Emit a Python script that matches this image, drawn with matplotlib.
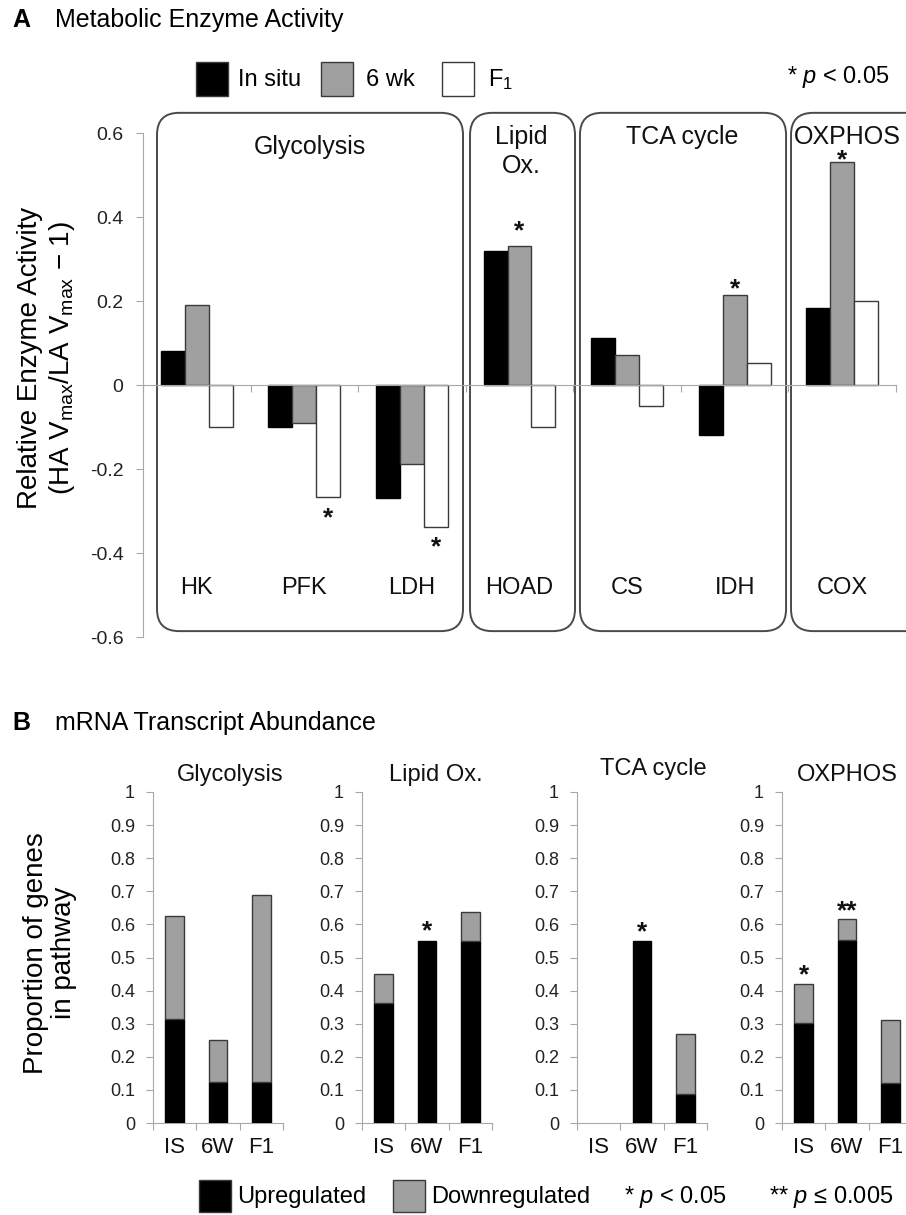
import matplotlib
matplotlib.use("Agg")
import matplotlib.pyplot as plt
from matplotlib.patches import Rectangle, FancyBboxPatch
from matplotlib.transforms import offset_copy
import numpy as np

plt.rcParams['font.family'] = ['Liberation Sans', 'DejaVu Sans']
plt.rcParams['mathtext.fontset'] = 'custom'
plt.rcParams['mathtext.rm'] = 'Liberation Sans'
plt.rcParams['mathtext.it'] = 'Liberation Sans:italic'

# ---- panel A data ----
enzymes = ['HK', 'PFK', 'LDH', 'HOAD', 'CS', 'IDH', 'COX']
in_situ = [0.082, -0.10, -0.27, 0.32, 0.113, -0.119, 0.183]
six_wk = [0.19, -0.09, -0.188, 0.33, 0.072, 0.214, 0.53]
f1_gen = [-0.10, -0.267, -0.338, -0.10, -0.049, 0.052, 0.20]
series_a = ['In situ', '6 wk', 'F$_1$']
# (enzyme, series, y of star)
stars_a = [(1, 2, -0.298), (2, 2, -0.367), (3, 1, 0.385), (5, 1, 0.247), (6, 1, 0.555)]
pathways_a = ['Glycolysis', 'Lipid\nOx.', 'TCA cycle', 'OXPHOS']

# ---- panel B data ----
groups_b = ['IS', '6W', 'F1']
pathways_b = ['Glycolysis', 'Lipid Ox.', 'TCA cycle', 'OXPHOS']
up_b = [[0.313, 0.123, 0.123],
        [0.363, 0.55, 0.55],
        [0.0, 0.55, 0.089],
        [0.303, 0.552, 0.121]]
total_b = [[0.624, 0.25, 0.688],
           [0.449, 0.55, 0.637],
           [0.0, 0.55, 0.268],
           [0.419, 0.617, 0.310]]
# (pathway, group, label, y)
stars_b = [(1, 1, '*', 0.604), (2, 1, '*', 0.60), (3, 0, '*', 0.471), (3, 1, '**', 0.665)]

W, H = 906, 1215
BLACK = '#000000'
GRAY = '#a0a0a0'
EDGE = '#3a3a3a'
AXC = '#a8a8a8'


def fx(x):
    return x / W


def fy(y):
    return 1 - y / H


def star(ax, x, y, label, size):
    # put the visual centre of the asterisk at y
    tr = offset_copy(ax.transData, fig=fig, y=-0.58 * size, units='points')
    ax.text(x, y, label, transform=tr, ha='center', va='baseline',
            fontsize=size, fontweight='bold', color='#111111', clip_on=False)


fig = plt.figure(figsize=(W / 100, H / 100), dpi=100)

# ================= panel A =================
axA = fig.add_axes([fx(143), fy(637), 753 / W, 504 / H])
n = len(enzymes)
xs = np.arange(n)
bw = 0.223
colors = [BLACK, GRAY, 'white']
for k, vals in enumerate([in_situ, six_wk, f1_gen]):
    axA.bar(xs + (k - 1) * bw, vals, width=bw, color=colors[k],
            edgecolor=EDGE if k else BLACK, linewidth=1.0, zorder=3)

axA.set_xlim(-0.5, n - 0.5)
axA.set_ylim(-0.6, 0.6)
axA.set_yticks([0.6, 0.4, 0.2, 0, -0.2, -0.4, -0.6])
axA.set_yticklabels(['0.6', '0.4', '0.2', '0', '-0.2', '-0.4', '-0.6'])
axA.tick_params(axis='y', length=5, color=AXC, pad=9, labelsize=14, labelcolor='#222222')
axA.set_xticks(np.arange(-0.5, n, 1.0))
axA.set_xticklabels([])
axA.tick_params(axis='x', length=5, color=AXC, direction='out')
for s in ['top', 'right']:
    axA.spines[s].set_visible(False)
axA.spines['left'].set_color(AXC)
axA.spines['bottom'].set_color(AXC)
axA.spines['bottom'].set_position(('data', 0))
axA.spines['bottom'].set_zorder(4)

# pathway boxes
box_spans = [(-0.37, 2.475), (2.54, 3.516), (3.562, 5.478), (5.524, 6.85)]
px_x = 753 / n
px_y = 504 / 1.2
r = 22 / px_x
for (x0, x1) in box_spans:
    b = FancyBboxPatch((x0, -0.586), x1 - x0, 0.648 + 0.586,
                       boxstyle='round,pad=0,rounding_size=%.3f' % r,
                       mutation_aspect=px_x / px_y, facecolor='none',
                       edgecolor='#4a4a4a', linewidth=1.4, clip_on=False, zorder=2)
    axA.add_patch(b)

label_pos = [(1.05, 0.567), (3.02, 0.556), (4.51, 0.59), (6.05, 0.59)]
for name, (lx, ly) in zip(pathways_a, label_pos):
    axA.text(lx, ly, name, ha='center', va='center', fontsize=18,
             linespacing=1.25, color='#111111', clip_on=False)

for i, e in enumerate(enzymes):
    axA.text(i, -0.483, e, ha='center', va='center', fontsize=17, color='#111111')

for (i, k, y) in stars_a:
    star(axA, i + (k - 1) * bw, y, '*', 19)

fig.text(fx(47), fy(358),
         'Relative Enzyme Activity\n(HA V$_{\\mathrm{max}}$/LA V$_{\\mathrm{max}}$ \u2212 1)',
         rotation=90, ha='center', va='center', fontsize=20,
         multialignment='center', linespacing=1.15)

# panel A title + legend
fig.text(fx(12), fy(20), 'A', fontsize=18, fontweight='bold', va='center')
fig.text(fx(55), fy(20), 'Metabolic Enzyme Activity', fontsize=18, va='center')
sq_x = [196, 321, 442]
tx_x = [238, 366, 488]
for k in range(3):
    fig.add_artist(Rectangle((fx(sq_x[k]), fy(96)), 32 / W, 34 / H,
                             transform=fig.transFigure, facecolor=colors[k],
                             edgecolor=EDGE, linewidth=1.0))
    fig.text(fx(tx_x[k]), fy(80), series_a[k], fontsize=17, va='center')
fig.text(fx(890), fy(77), '* $\\mathit{p}$ < 0.05', fontsize=17, va='center', ha='right')

# ================= panel B =================
lefts = [153, 362, 577, 782]
title_x = [0.59, 0.57, 0.585, 0.5]
title_y = [1.05, 1.05, 1.07, 1.05]
for p, name in enumerate(pathways_b):
    ax = fig.add_axes([fx(lefts[p]), fy(1123), 130 / W, 331 / H])
    up = np.array(up_b[p])
    down = np.array(total_b[p]) - up
    xb = np.arange(3) + 0.5
    show = np.array(total_b[p]) > 0
    ax.bar(xb[show], up[show], width=0.43, color=BLACK, edgecolor=BLACK,
           linewidth=1.0, zorder=3)
    dshow = show & (down > 0.001)
    ax.bar(xb[dshow], down[dshow], bottom=up[dshow], width=0.43, color=GRAY,
           edgecolor=EDGE, linewidth=1.0, zorder=3)
    ax.set_xlim(0, 3)
    ax.set_ylim(0, 1)
    ax.set_yticks(np.arange(0, 1.01, 0.1))
    ax.set_yticklabels(['0'] + ['%.1f' % v for v in np.arange(0.1, 0.95, 0.1)] + ['1'])
    ax.tick_params(axis='y', length=5, color=AXC, pad=8, labelsize=13, labelcolor='#222222')
    ax.set_xticks([0, 1, 2, 3])
    ax.set_xticklabels([])
    ax.set_xticks(xb, minor=True)
    ax.set_xticklabels(groups_b, minor=True)
    ax.tick_params(axis='x', which='major', length=5, color=AXC)
    ax.tick_params(axis='x', which='minor', length=0, pad=10, labelsize=16,
                   labelcolor='#111111')
    for s in ['top', 'right']:
        ax.spines[s].set_visible(False)
    ax.spines['left'].set_color(AXC)
    ax.spines['bottom'].set_color(AXC)
    ax.text(title_x[p], title_y[p], name, transform=ax.transAxes, ha='center',
            va='center', fontsize=17, color='#111111')
    for (pp, g, lab, y) in stars_b:
        if pp == p:
            star(ax, xb[g], y, lab, 19)

fig.text(fx(50), fy(953), 'Proportion of genes\nin pathway', rotation=90,
         ha='center', va='center', fontsize=20, multialignment='center',
         linespacing=1.1)

fig.text(fx(12), fy(723), 'B', fontsize=18, fontweight='bold', va='center')
fig.text(fx(55), fy(723), 'mRNA Transcript Abundance', fontsize=18, va='center')

leg_sq = [199, 393]
leg_tx = [237, 431]
leg_lab = ['Upregulated', 'Downregulated']
for k in range(2):
    fig.add_artist(Rectangle((fx(leg_sq[k]), fy(1212)), 32 / W, 32 / H,
                             transform=fig.transFigure, facecolor=[BLACK, GRAY][k],
                             edgecolor=EDGE, linewidth=1.0))
    fig.text(fx(leg_tx[k]), fy(1197), leg_lab[k], fontsize=17, va='center')
fig.text(fx(624), fy(1197), '* $\\mathit{p}$ < 0.05', fontsize=17, va='center')
fig.text(fx(769), fy(1197), '** $\\mathit{p}$ \u2264 0.005', fontsize=17, va='center')

fig.savefig('out.png', dpi=100)
